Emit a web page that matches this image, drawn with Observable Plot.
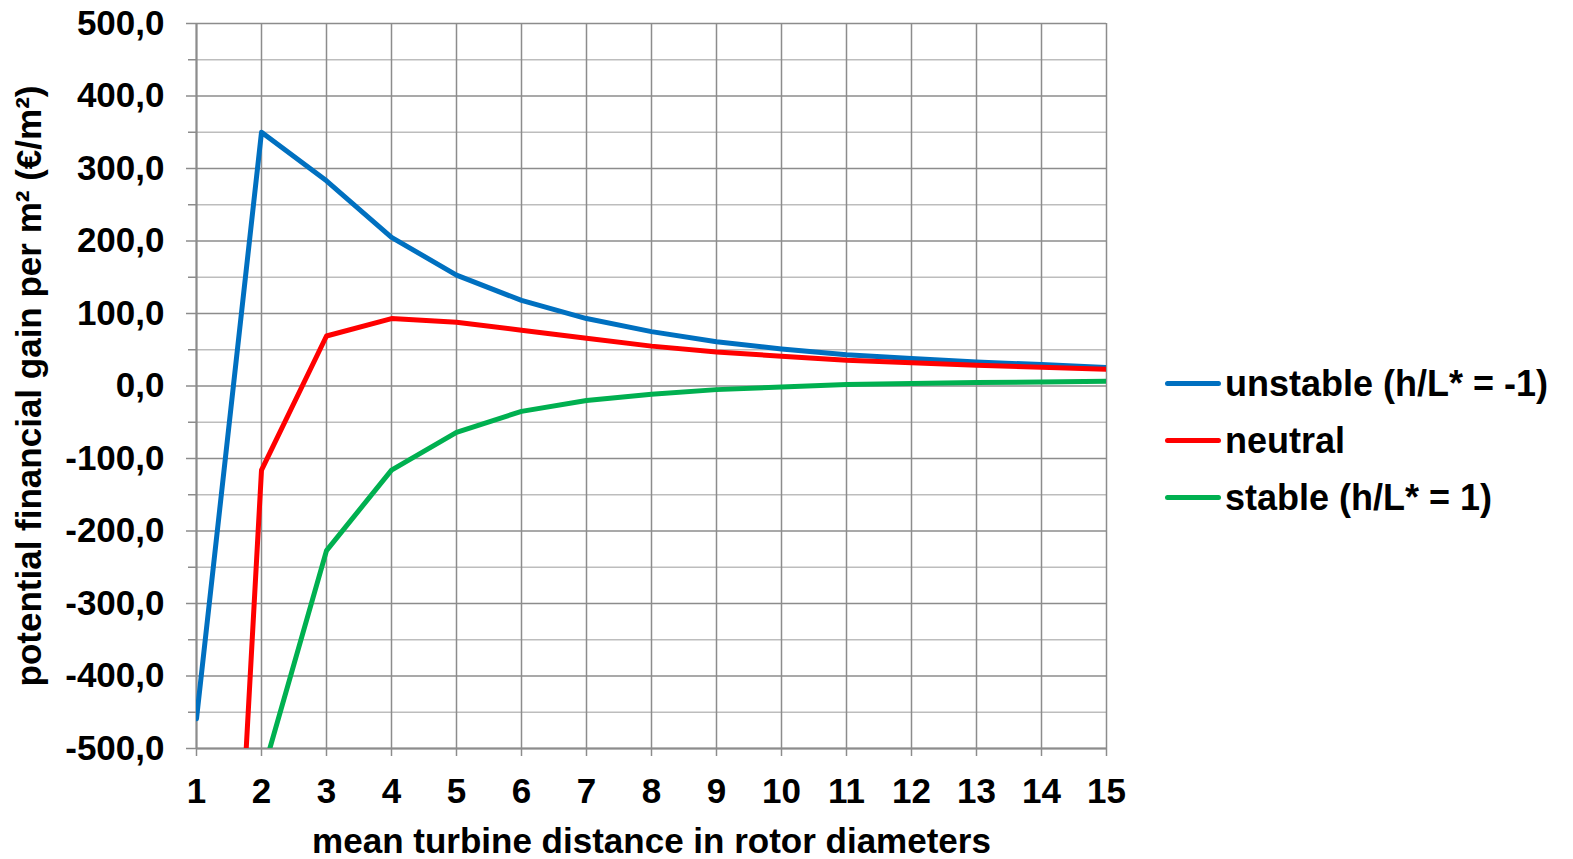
<!DOCTYPE html>
<html>
<head>
<meta charset="utf-8">
<script src="https://cdn.jsdelivr.net/npm/d3@7"></script>
<script src="https://cdn.jsdelivr.net/npm/@observablehq/plot@0.6"></script>
<style>
  html, body { margin: 0; padding: 0; background: #fff; }
  #wrap { position: relative; width: 1573px; height: 859px; font-family: "Liberation Sans", Arial, sans-serif; font-weight: bold; }
  #legend { position: absolute; left: 1165px; top: 355px; }
  .row { display: flex; align-items: center; height: 57px; font-size: 36px; color: #000; white-space: nowrap; }
  .sw { width: 56px; height: 5px; border-radius: 3px; margin-right: 4px; }
</style>
</head>
<body>
<div id="wrap"></div>
<script>
const distance = [1, 2, 3, 4, 5, 6, 7, 8, 9, 10, 11, 12, 13, 14, 15];
const unstable = [-459, 350, 283, 205, 153, 118, 93, 75, 61, 51, 43, 38, 33, 29.5, 25.5];
const neutral  = [-1750, -116, 69, 93, 88, 77, 66, 55, 47, 41, 35.5, 32, 28.5, 26, 23];
const stable   = [-1000, -540, -227, -116, -64, -35, -20, -11.5, -5, -1.5, 2, 3.3, 4.7, 5.5, 6.5];
const seriesNames = ["unstable (h/L* = -1)", "neutral", "stable (h/L* = 1)"];
const seriesColors = ["#0070C0", "#FF0000", "#00B050"];
const yMajor = [-500, -400, -300, -200, -100, 0, 100, 200, 300, 400, 500];
const yMinor = [-450, -350, -250, -150, -50, 50, 150, 250, 350, 450];

const seriesValues = [unstable, neutral, stable];
const rows = [];
seriesNames.forEach((name, i) => distance.forEach((d, j) => rows.push({series: name, x: d, y: seriesValues[i][j]})));

const fmt = d => d.toFixed(1).replace(".", ",");

const chart = Plot.plot({
  width: 1573,
  height: 859,
  marginLeft: 196,
  marginRight: 467,
  marginTop: 23,
  marginBottom: 111,
  style: {fontFamily: "'Liberation Sans', Arial, sans-serif", fontSize: "35px", fontWeight: "bold", color: "#000", background: "#fff"},
  x: {domain: [1, 15]},
  y: {domain: [-500, 500]},
  color: {domain: seriesNames, range: seriesColors},
  marks: [
    Plot.gridY(yMinor, {stroke: "#bdbdbd", strokeOpacity: 1, strokeWidth: 1.5}),
    Plot.gridY(yMajor, {stroke: "#8c8c8c", strokeOpacity: 1, strokeWidth: 1.5}),
    Plot.gridX(distance, {stroke: "#8c8c8c", strokeOpacity: 1, strokeWidth: 1.5}),
    Plot.ruleX([1], {stroke: "#8c8c8c", strokeWidth: 2}),
    Plot.ruleY([-500], {stroke: "#8c8c8c", strokeWidth: 2}),
    Plot.axisY(yMinor, {tickSize: 8, text: null, stroke: "#8c8c8c", strokeWidth: 1.5, label: null}),
    Plot.axisY(yMajor, {tickSize: 10, tickPadding: 22, tickFormat: fmt, stroke: "#8c8c8c", strokeWidth: 1.5,
      fill: "#000", label: "potential financial gain per m² (€/m²)", labelAnchor: "center", labelArrow: "none", labelOffset: 180}),
    Plot.axisX(distance, {tickSize: 8, tickPadding: 22, tickFormat: d => String(d), stroke: "#8c8c8c", strokeWidth: 1.5,
      fill: "#000", label: "mean turbine distance in rotor diameters", labelAnchor: "center", labelArrow: "none", labelOffset: 104}),
    Plot.line(rows, {x: "x", y: "y", z: "series", stroke: "series", strokeWidth: 5, clip: true})
  ]
});
document.getElementById("wrap").appendChild(chart);

const legend = document.createElement("div");
legend.id = "legend";
seriesNames.forEach((name, i) => {
  const row = document.createElement("div");
  row.className = "row";
  const sw = document.createElement("div");
  sw.className = "sw";
  sw.style.background = seriesColors[i];
  const label = document.createElement("span");
  label.textContent = name;
  row.appendChild(sw);
  row.appendChild(label);
  legend.appendChild(row);
});
document.getElementById("wrap").appendChild(legend);
</script>
</body>
</html>
